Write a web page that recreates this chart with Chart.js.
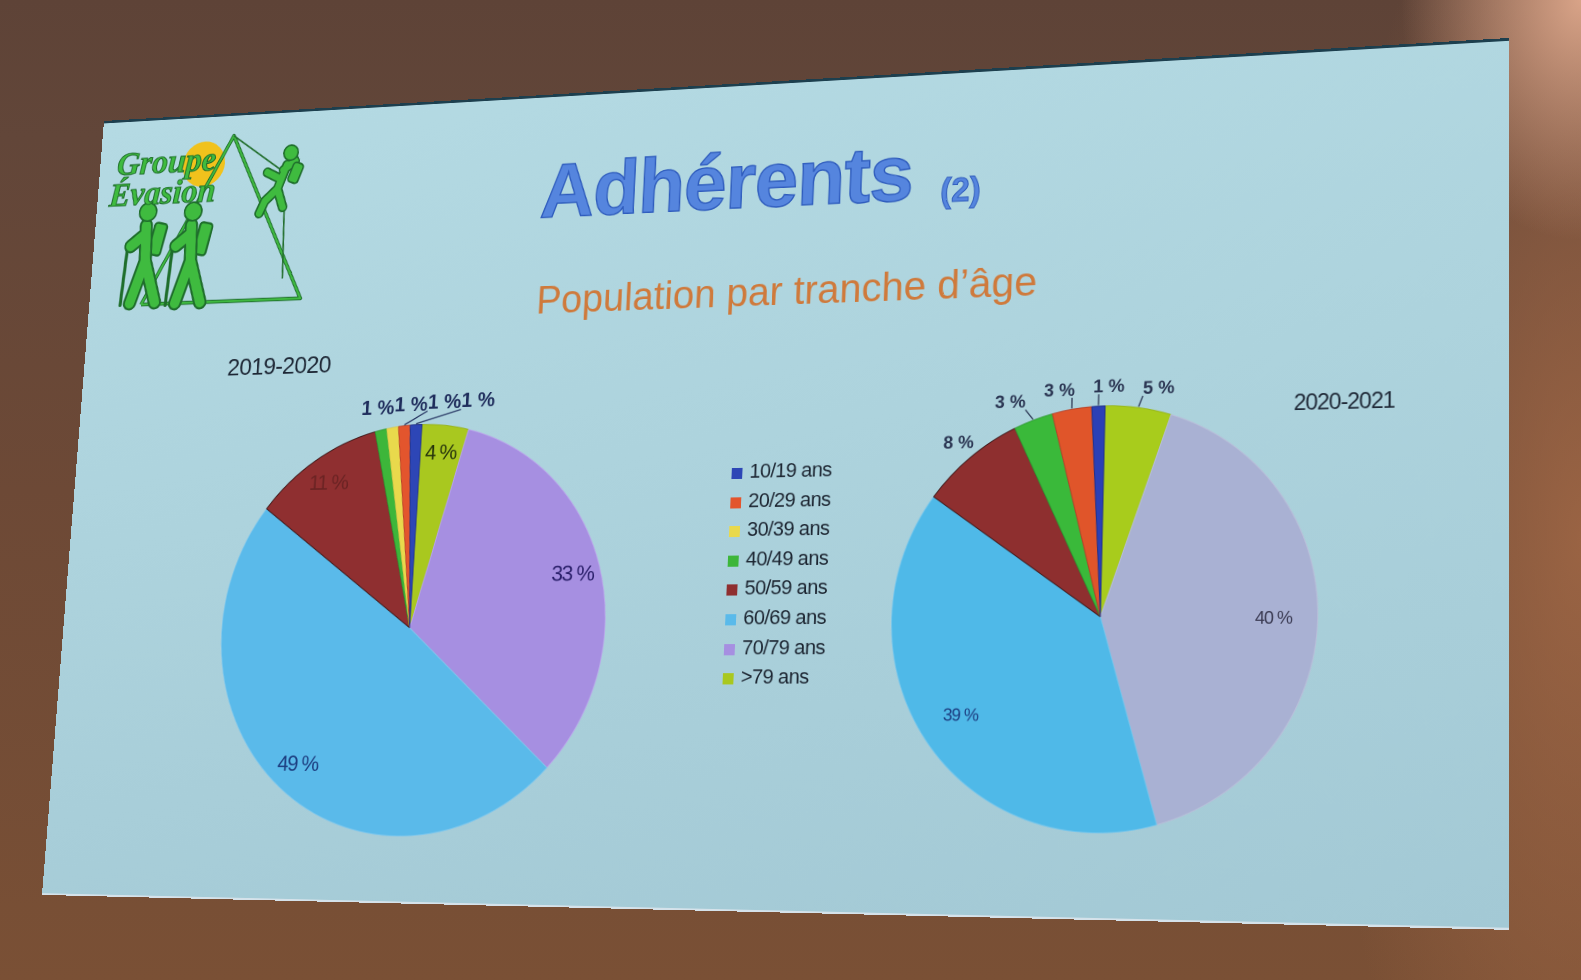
<!DOCTYPE html>
<html lang="fr">
<head>
<meta charset="utf-8">
<title>Adhérents (2) – Population par tranche d'âge</title>
<script src="https://cdn.jsdelivr.net/npm/chart.js@4.4.1/dist/chart.umd.min.js"></script>
<style>
  html, body { margin:0; padding:0; }
  body {
    width:1581px; height:980px; overflow:hidden; position:relative;
    font-family:"Liberation Sans", Arial, sans-serif;
    background:
      radial-gradient(ellipse 180px 240px at 100% 0%, rgba(222,168,140,0.95), rgba(222,168,140,0) 100%),
      radial-gradient(ellipse 260px 760px at 100% 55%, rgba(168,108,72,0.75), rgba(168,108,72,0) 100%),
      linear-gradient(180deg, #5e4337 0%, #624639 14%, #6d4936 50%, #7a5035 100%);
  }
  #slide {
    position:absolute; left:0; top:0; width:1600px; height:900px;
    transform-origin:0 0;
    background:linear-gradient(172deg, #b4dae3 0%, #add3dd 45%, #a3c9d5 100%);
    border-top:3px solid #1d3f4e;
    border-bottom:2px solid #d5e2ea;
    box-sizing:border-box;
  }
  .abs { position:absolute; white-space:nowrap; }
  #title {
    left:553px; top:64px; font-size:88px; line-height:88px; font-weight:bold;
    color:#5585de; -webkit-text-stroke:1.5px #2f5cbd; letter-spacing:-1px;
  }
  #title2 {
    left:1010px; top:112px; font-size:36px; line-height:36px; font-weight:bold;
    color:#5585de; -webkit-text-stroke:1px #2f5cbd;
  }
  #subtitle {
    left:555px; top:211px; font-size:44px; line-height:44px;
    color:#cf7a3c;
  }
  #y1 { left:183px; top:284px; font-size:28px; line-height:28px; color:#1e2836; letter-spacing:-0.6px; }
  #y2 { left:1387px; top:359px; font-size:23px; line-height:23px; color:#1e2836; letter-spacing:-1px; }
  canvas { position:absolute; }
  #c1 { left:127px; top:297px; }
  #c2 { left:893px; top:289px; }
  .lg { position:absolute; left:790px; height:30px; line-height:30px; font-size:22px; color:#1b2430; letter-spacing:-0.6px; }
  .lg i { display:inline-block; width:12px; height:12px; margin-right:8px; vertical-align:-1px; }
</style>
</head>
<body>
<div id="slide">
  <svg class="abs" style="left:0;top:0" width="320" height="240" viewBox="0 0 320 240">
    <circle cx="134" cy="56" r="27" fill="#f1c21c"/>
    <polyline points="67,220 170,24 268,220 67,220" fill="none" stroke="#1f6e2c" stroke-width="4.5" stroke-linejoin="round"/>
    <polyline points="67,220 170,24 268,220 67,220" fill="none" stroke="#3fb841" stroke-width="2.5" stroke-linejoin="round"/>
    <line x1="170" y1="24" x2="236" y2="70" stroke="#24702f" stroke-width="2"/>
    <line x1="240" y1="110" x2="244" y2="196" stroke="#24702f" stroke-width="2"/>
    <g stroke-linecap="round" stroke-linejoin="round" fill="none">
      <g stroke="#1f6e2c" stroke-width="12">
        <path d="M240 62 L230 90 L215 104 L209 118 M230 90 L238 112 M236 68 L250 58 M232 78 L216 70"/>
      </g>
      <g stroke="#3fbb3f" stroke-width="8">
        <path d="M240 62 L230 90 L215 104 L209 118 M230 90 L238 112 M236 68 L250 58 M232 78 L216 70"/>
      </g>
      <circle cx="244" cy="48" r="9" fill="#3fbb3f" stroke="#1f6e2c" stroke-width="2"/>
      <rect x="245" y="60" width="13" height="24" rx="4" fill="#3fbb3f" stroke="#1f6e2c" stroke-width="2" transform="rotate(20 251 72)"/>
    </g>
    <g id="hiker" stroke-linecap="round" stroke-linejoin="round" fill="none">
      <line x1="44" y1="150" x2="40" y2="220" stroke="#1f6e2c" stroke-width="4"/>
      <rect x="74" y="124" width="16" height="38" rx="4" fill="#3fbb3f" stroke="#1f6e2c" stroke-width="2.5" transform="rotate(12 82 143)"/>
      <path d="M66 126 L68 168 L52 218 M68 168 L84 218 M66 136 L48 150" stroke="#1f6e2c" stroke-width="17"/>
      <path d="M66 126 L68 168 L52 218 M68 168 L84 218 M66 136 L48 150" stroke="#3fbb3f" stroke-width="12"/>
      <circle cx="67" cy="110" r="11" fill="#3fbb3f" stroke="#1f6e2c" stroke-width="2"/>
    </g>
    <use href="#hiker" transform="translate(58,2)"/>
    <text x="22" y="64" font-family="Liberation Serif, serif" font-style="italic" font-weight="bold" font-size="41" fill="#3fbb3f" stroke="#1f6e2c" stroke-width="1.2">Groupe</text>
    <text x="15" y="101" font-family="Liberation Serif, serif" font-style="italic" font-weight="bold" font-size="41" fill="#3fbb3f" stroke="#1f6e2c" stroke-width="1.2">Évasion</text>
  </svg>

  <div id="title" class="abs">Adhérents</div>
  <div id="title2" class="abs">(2)</div>
  <div id="subtitle" class="abs">Population par tranche d’âge</div>

  <canvas id="c1" width="600" height="600"></canvas>
  <canvas id="c2" width="600" height="600"></canvas>

  <div id="y1" class="abs">2019-2020</div>
  <div id="y2" class="abs">2020-2021</div>
  <div id="legend"></div>
</div>

<script>
// ---------------- DATA ----------------
const ageGroups   = ['10/19 ans', '20/29 ans', '30/39 ans', '40/49 ans', '50/59 ans', '60/69 ans', '70/79 ans', '>79 ans'];
const members2019 = [1, 1, 1, 1, 11, 49, 33, 4];
const members2020 = [1, 3, 0, 3, 8, 39, 40, 5];

// ---------------- STYLES ----------------
const colors2019 = ['#2d46b6', '#e3552d', '#e9d94c', '#3db63a', '#8f2f30', '#5abaea', '#a68fe1', '#a9c81f'];
const colors2020 = ['#2b40b6', '#e0552a', '#e9d94c', '#3ab93a', '#8e2f2f', '#4fb9e8', '#a9b1d3', '#a8cc1c'];
const borders2019 = ['#24348a', '#b9432a', '#d9c94a', '#2f9a31', '#3d1718', '#7cc6ec', '#b9a7ea', '#98b41d'];
const borders2020 = ['#22318a', '#b9432a', '#e8e070', '#2f9a31', '#3d1718', '#70c4ec', '#b8bed9', '#98b81c'];
const labelColors2019 = ['#1f2d5c', '#1f2d5c', '#1f2d5c', '#1f2d5c', '#6a2323', '#1c3d80', '#2a1f6a', '#24320c'];
const labelColors2020 = ['#2a3552', '#2a3552', '#2a3552', '#2a3552', '#2a3552', '#1c3d80', '#3a3a52', '#2a3552'];

// Photographed slide corners (TL, TR, BR, BL) – page layout only
const SLIDE_W = 1600, SLIDE_H = 900;
const SLIDE_CORNERS = [[104, 121], [1509, 38], [1509, 930], [42, 895]];

function quadMatrix(W, H, p) {
  const [x0, y0] = p[0], [x1, y1] = p[1], [x2, y2] = p[2], [x3, y3] = p[3];
  const dx1 = x1 - x2, dx2 = x3 - x2, dx3 = x0 - x1 + x2 - x3;
  const dy1 = y1 - y2, dy2 = y3 - y2, dy3 = y0 - y1 + y2 - y3;
  const den = dx1 * dy2 - dx2 * dy1;
  const g = (dx3 * dy2 - dx2 * dy3) / den;
  const h = (dx1 * dy3 - dx3 * dy1) / den;
  const a = x1 - x0 + g * x1, b = x3 - x0 + h * x3, c = x0;
  const d = y1 - y0 + g * y1, e = y3 - y0 + h * y3, f = y0;
  return `matrix3d(${a / W},${d / W},0,${g / W},${b / H},${e / H},0,${h / H},0,0,1,0,${c},${f},0,1)`;
}
document.getElementById('slide').style.transform = quadMatrix(SLIDE_W, SLIDE_H, SLIDE_CORNERS);

// ---------------- LEGEND (shared, in category order) ----------------
const legend = document.getElementById('legend');
ageGroups.forEach((name, i) => {
  const row = document.createElement('div');
  row.className = 'lg';
  row.style.top = (415 + i * 31.6) + 'px';
  const sw = document.createElement('i');
  sw.style.background = colors2019[i];
  row.appendChild(sw);
  row.appendChild(document.createTextNode(name));
  legend.appendChild(row);
});

// ---------------- PERCENT LABEL PLUGIN ----------------
const percentLabels = {
  id: 'percentLabels',
  afterDatasetsDraw(chart, _args, o) {
    const ctx = chart.ctx;
    const vals = chart.data.datasets[0].data;
    const total = vals.reduce((s, v) => s + v, 0);
    const arcs = chart.getDatasetMeta(0).data;
    const outs = [];
    ctx.save();
    ctx.textAlign = 'center';
    ctx.textBaseline = 'middle';
    arcs.forEach((arc, i) => {
      const v = vals[i];
      if (!v) return;
      const p = arc.getProps(['x', 'y', 'startAngle', 'endAngle', 'outerRadius'], true);
      const mid = (p.startAngle + p.endAngle) / 2;
      const pct = Math.round(v / total * 100);
      const text = pct + ' %';
      const cs = Math.cos(mid), sn = Math.sin(mid);
      if (pct >= o.outsideBelow) {
        ctx.font = o.insideFont;
        ctx.letterSpacing = o.insideSpacing;
        ctx.fillStyle = o.colors[i];
        const r = p.outerRadius * o.insideR;
        ctx.fillText(text, p.x + cs * r, p.y + sn * r);
      } else {
        ctx.font = o.outsideFont;
        ctx.letterSpacing = '0px';
        const w = ctx.measureText(text).width;
        const r = p.outerRadius + o.outsideGap;
        outs.push({ text, color: o.colors[i], w, x0: p.x + cs * r, x: p.x + cs * r, y: p.y + sn * r,
                    ax: p.x + cs * (p.outerRadius + 1), ay: p.y + sn * (p.outerRadius + 1) });
      }
    });
    outs.sort((a, b) => a.x0 - b.x0);
    if (o.spread === 'right') {
      for (let k = 1; k < outs.length; k++)
        if (outs[k].x < outs[k - 1].x + o.minSpacing) outs[k].x = outs[k - 1].x + o.minSpacing;
    } else {
      for (let it = 0; it < 60; it++)
        for (let k = 1; k < outs.length; k++) {
          const gap = outs[k].x - outs[k - 1].x;
          if (gap < o.minSpacing) { const s = (o.minSpacing - gap) / 2; outs[k].x += s; outs[k - 1].x -= s; }
        }
    }
    ctx.font = o.outsideFont;
    ctx.letterSpacing = '0px';
    outs.forEach(L => {
      if (Math.abs(L.x - L.x0) > o.leaderMin) {
        ctx.strokeStyle = o.leaderColor;
        ctx.lineWidth = 1.3;
        const ex = Math.min(Math.max(L.ax, L.x - L.w / 2), L.x + L.w / 2);
        ctx.beginPath();
        ctx.moveTo(L.ax, L.ay);
        ctx.lineTo(ex, L.y + o.textH / 2);
        ctx.stroke();
      }
      ctx.fillStyle = L.color;
      ctx.fillText(L.text, L.x, L.y);
    });
    ctx.restore();
  }
};

// LibreOffice pies run counter-clockwise from the top: feed the library reversed order
const rev = a => a.slice().reverse();

function makePie(id, values, colors, borders, labelColors, padding, labelOpts) {
  return new Chart(document.getElementById(id), {
    type: 'pie',
    data: {
      labels: rev(ageGroups),
      datasets: [{
        data: rev(values),
        backgroundColor: rev(colors),
        borderColor: rev(borders),
        borderWidth: 1
      }]
    },
    options: {
      responsive: false,
      animation: false,
      devicePixelRatio: 2,
      layout: { padding },
      plugins: {
        legend: { display: false },
        tooltip: { enabled: false },
        percentLabels: Object.assign({ colors: rev(labelColors) }, labelOpts)
      }
    },
    plugins: [percentLabels]
  });
}

makePie('c1', members2019, colors2019, borders2019, labelColors2019, 72, {
  insideR: 0.86, outsideBelow: 2, outsideGap: 25,
  insideFont: '24px "Liberation Sans", Arial, sans-serif', insideSpacing: '-1.5px',
  outsideFont: 'bold 23px "Liberation Sans", Arial, sans-serif',
  spread: 'right', minSpacing: 40, leaderMin: 30, leaderColor: '#1f2d5c', textH: 18
});

makePie('c2', members2020, colors2020, borders2020, labelColors2020, 79, {
  insideR: 0.8, outsideBelow: 10, outsideGap: 20,
  insideFont: '18px "Liberation Sans", Arial, sans-serif', insideSpacing: '-1px',
  outsideFont: 'bold 19px "Liberation Sans", Arial, sans-serif',
  spread: 'both', minSpacing: 52, leaderMin: 10, leaderColor: '#2a3552', textH: 15
});
</script>
</body>
</html>
